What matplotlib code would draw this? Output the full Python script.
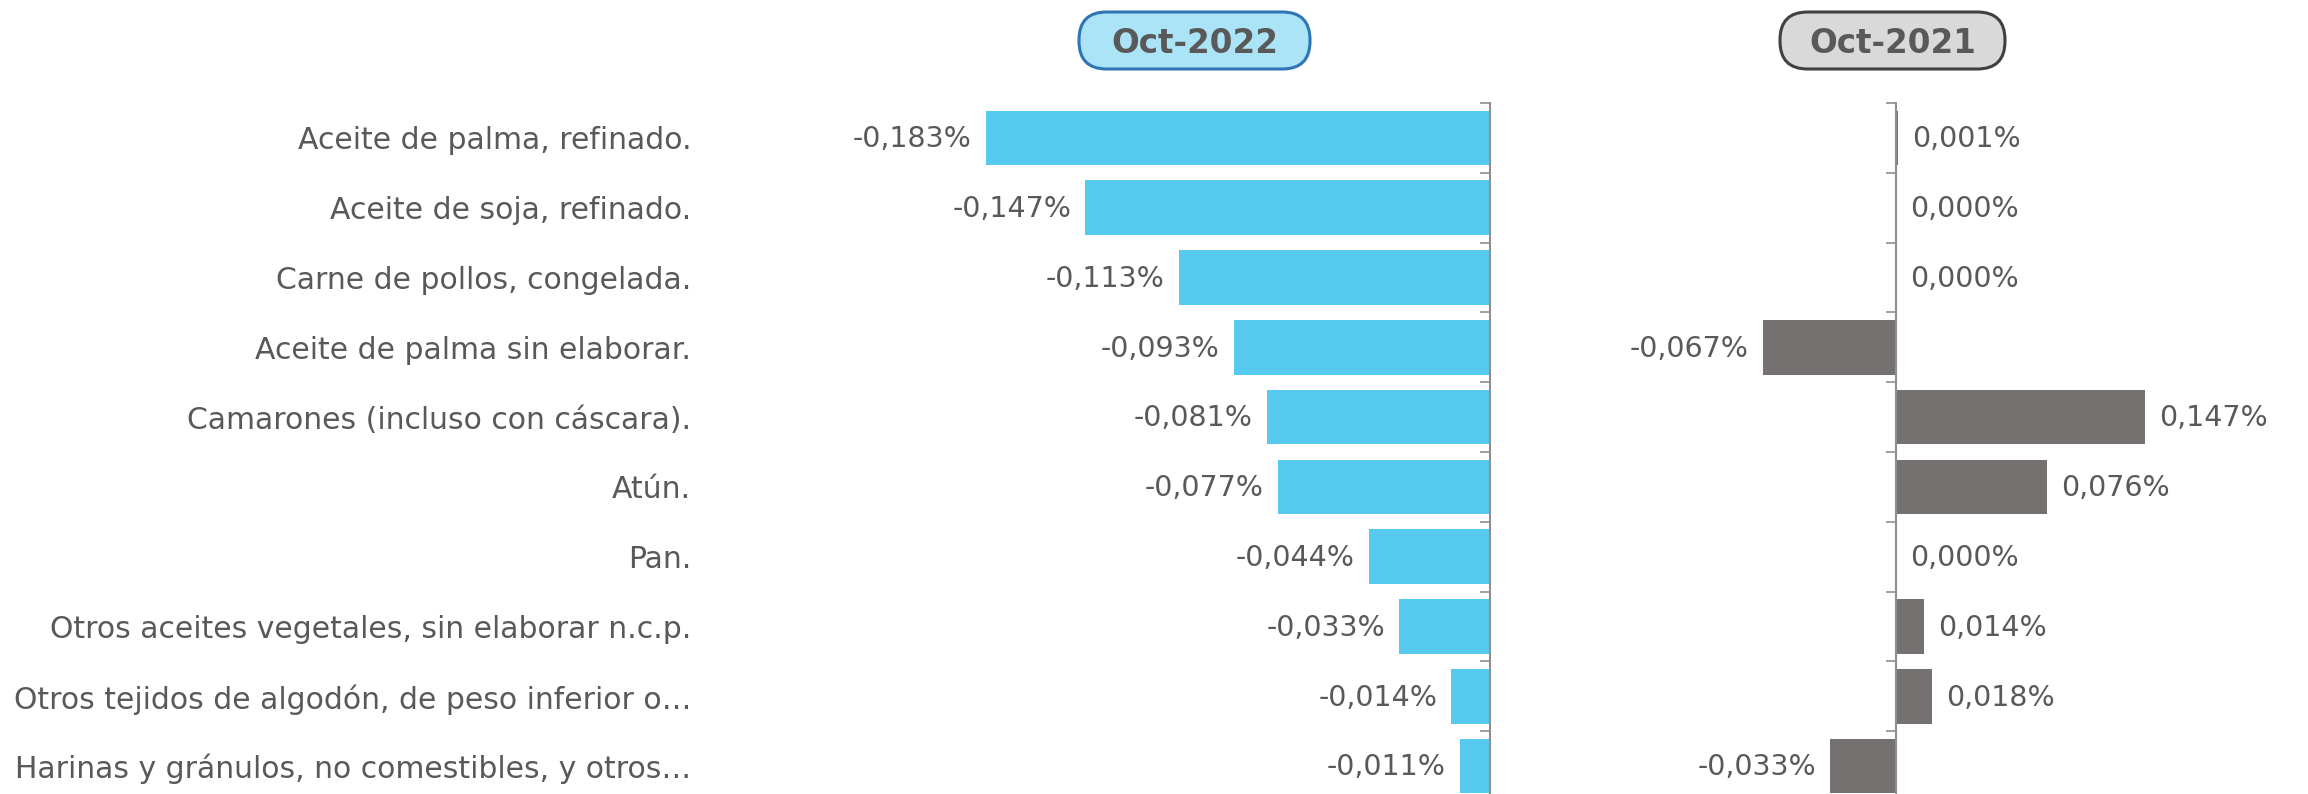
import matplotlib
matplotlib.use("Agg")
import matplotlib.pyplot as plt
from matplotlib.patches import FancyBboxPatch

# data
categories = [
    "Aceite de palma, refinado.",
    "Aceite de soja, refinado.",
    "Carne de pollos, congelada.",
    "Aceite de palma sin elaborar.",
    "Camarones (incluso con cáscara).",
    "Atún.",
    "Pan.",
    "Otros aceites vegetales, sin elaborar n.c.p.",
    "Otros tejidos de algodón, de peso inferior o…",
    "Harinas y gránulos, no comestibles, y otros…",
]
oct_2022 = [-0.183, -0.147, -0.113, -0.093, -0.081, -0.077, -0.044, -0.033, -0.014, -0.011]
oct_2021 = [0.001, 0.000, 0.000, -0.067, 0.147, 0.076, 0.000, 0.014, 0.018, -0.033]
titles = ["Oct-2022", "Oct-2021"]

txt_color = "#595959"
blue = "#56CAEE"
gray = "#767171"
axis_color = "#8f8f8f"

plt.rcParams["font.family"] = ["DejaVu Sans"]

W, H = 2308, 794
fig = plt.figure(figsize=(W / 100, H / 100), dpi=100)

def fx(px):
    return px / W

def fy(px):
    return 1 - px / H

ax_top = 103
ax_bot = 801

# left panel: zero at x=1490 px, 2755 px per unit
left_lim = (-0.25, 0.0)
l_right = 1490
l_left = l_right - (left_lim[1] - left_lim[0]) * 2755
ax1 = fig.add_axes([fx(l_left), fy(ax_bot), fx(l_right - l_left), (ax_bot - ax_top) / H])

# right panel: zero at x=1896 px, ~1990 px per unit, axis max clips the big bar
right_lim = (-0.1, 0.125)
r_zero = 1896
r_scale = 1990
r_left = r_zero + right_lim[0] * r_scale
r_right = r_zero + right_lim[1] * r_scale
ax2 = fig.add_axes([fx(r_left), fy(ax_bot), fx(r_right - r_left), (ax_bot - ax_top) / H])

ypos = list(range(len(categories)))

def fmt(v):
    return f"{v:.3f}".replace(".", ",") + "%"

for ax, vals, color, lim in [(ax1, oct_2022, blue, left_lim), (ax2, oct_2021, gray, right_lim)]:
    ax.barh(ypos, vals, height=0.78, color=color, zorder=2)
    ax.set_xlim(lim)
    ax.set_ylim(len(categories) - 0.5, -0.5)
    for s in ["top", "right", "bottom"]:
        ax.spines[s].set_visible(False)
    ax.spines["left"].set_position(("data", 0))
    ax.spines["left"].set_color(axis_color)
    ax.spines["left"].set_linewidth(1.5)
    ax.spines["left"].set_zorder(3)
    ax.set_xticks([])
    ax.set_yticks(ypos)
    ax.set_yticks([y - 0.5 for y in ypos], minor=True)
    ax.tick_params(axis="y", which="major", length=0)
    ax.tick_params(axis="y", which="minor", length=7, width=1.2, color=axis_color, direction="out")
    for y, v in zip(ypos, vals):
        xe = min(v, lim[1])
        if v < 0:
            ax.annotate(fmt(v), (xe, y), xytext=(-10, -1), textcoords="offset points",
                        ha="right", va="center", fontsize=20.5, color=txt_color, annotation_clip=False)
        else:
            ax.annotate(fmt(v), (xe, y), xytext=(10, -1), textcoords="offset points",
                        ha="left", va="center", fontsize=20.5, color=txt_color, annotation_clip=False)

ax1.set_yticklabels(categories, fontsize=21.5, color=txt_color)
ax1.tick_params(axis="y", which="major", pad=575)
ax2.set_yticklabels([])

# title boxes
boxes = [
    (1079, 1310, "#ABE4F7", "#2E75B6"),
    (1780, 2005, "#D9D9D9", "#404040"),
]
for title, (x0, x1, fc, ec) in zip(titles, boxes):
    y0, y1 = 12, 69
    patch = FancyBboxPatch((fx(x0), fy(y1)), fx(x1 - x0), (y1 - y0) / H,
                           boxstyle="round,pad=0,rounding_size=0.012",
                           transform=fig.transFigure, facecolor=fc, edgecolor=ec,
                           linewidth=2.2, mutation_aspect=W / H)
    fig.patches.append(patch)
    fig.text(fx((x0 + x1) / 2), fy((y0 + y1) / 2 + 3), title, ha="center", va="center",
             fontsize=23.5, fontweight="bold", color=txt_color)

fig.savefig("out.png", dpi=100)
